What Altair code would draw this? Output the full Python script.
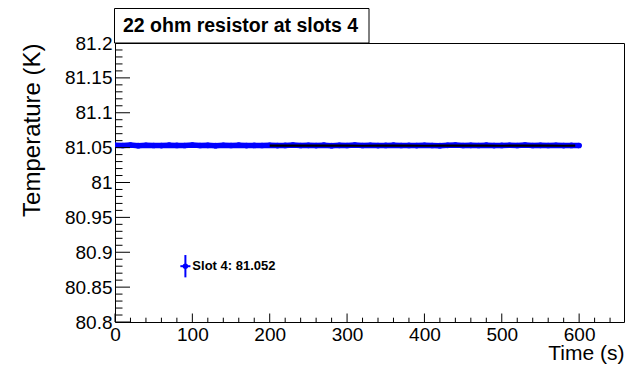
import altair as alt
import pandas as pd

W, H = 509, 279
X_DOMAIN = [0, 658]
Y_DOMAIN = [80.8, 81.2]
FONT = "Liberation Sans"

# blue series (slot 4), one reading every 10 s
time_blue = [0, 10, 20, 30, 40, 50, 60, 70, 80, 90, 100, 110, 120, 130, 140, 150,
             160, 170, 180, 190, 200, 210, 220, 230, 240, 250, 260, 270, 280, 290,
             300, 310, 320, 330, 340, 350, 360, 370, 380, 390, 400, 410, 420, 430,
             440, 450, 460, 470, 480, 490, 500, 510, 520, 530, 540, 550, 560, 570,
             580, 590, 600]
temp_blue = [81.0533, 81.0530, 81.0536, 81.0528, 81.0534, 81.0531, 81.0529, 81.0535,
             81.0532, 81.0530, 81.0536, 81.0530, 81.0533, 81.0528, 81.0534, 81.0531,
             81.0535, 81.0529, 81.0532, 81.0530, 81.0534, 81.0529, 81.0532, 81.0536,
             81.0530, 81.0533, 81.0529, 81.0535, 81.0528, 81.0533, 81.0531, 81.0536,
             81.0530, 81.0534, 81.0529, 81.0532, 81.0535, 81.0530, 81.0532, 81.0529,
             81.0534, 81.0531, 81.0528, 81.0533, 81.0536, 81.0530, 81.0533, 81.0531,
             81.0535, 81.0529, 81.0532, 81.0534, 81.0530, 81.0536, 81.0530, 81.0533,
             81.0531, 81.0534, 81.0529, 81.0532, 81.0531]

# black series, from 200 s on
time_black = [200, 220, 240, 260, 280, 300, 320, 340, 360, 380, 400, 420, 440, 460,
              480, 500, 520, 540, 560, 580, 595]
temp_black = [81.0528, 81.0528, 81.0529, 81.0528, 81.0528, 81.0528, 81.0527, 81.0528,
              81.0529, 81.0528, 81.0527, 81.0528, 81.0528, 81.0529, 81.0528, 81.0527,
              81.0528, 81.0528, 81.0528, 81.0527, 81.0528]

x_major = [0, 100, 200, 300, 400, 500, 600]
x_minor = [20, 40, 60, 80, 120, 140, 160, 180, 220, 240, 260, 280, 320, 340, 360, 380,
           420, 440, 460, 480, 520, 540, 560, 580, 620, 640]
y_major = [80.8, 80.85, 80.9, 80.95, 81.0, 81.05, 81.1, 81.15, 81.2]
y_minor = [round(80.8 + 0.01 * i, 2) for i in range(41) if i % 5 != 0]

legend_x = [91]
legend_y = [80.88]
legend_err_y = [0.016]
legend_err_x = [6.5]
legend_text_x = [100]
legend_label = ["Slot 4: 81.052"]
TITLE = "22 ohm resistor at slots 4"

xs = alt.Scale(domain=X_DOMAIN, nice=False, zero=False)
ys = alt.Scale(domain=Y_DOMAIN, nice=False, zero=False)

x_axis = alt.Axis(values=x_major, title="Time (s)", grid=False, domain=False,
                  ticks=False, tickSize=0, labelPadding=3, labelFont=FONT,
                  labelFontSize=19, labelColor="black", labelFlush=False,
                  labelOverlap=False, titleFont=FONT, titleFontSize=21,
                  titleFontWeight="normal", titleColor="black", titleX=W,
                  titleY=37.5, titleAlign="right", titleBaseline="alphabetic")
y_axis = alt.Axis(values=y_major, title="Temperature (K)", grid=False, domain=False,
                  ticks=False, tickSize=0, labelPadding=3, labelFont=FONT,
                  labelFontSize=19, labelColor="black", labelFlush=False,
                  labelOverlap=False, labelExpr="format(datum.value, '.2~f')",
                  titleFont=FONT, titleFontSize=24, titleFontWeight="normal",
                  titleColor="black", titleAngle=270, titleX=-76, titleY=0,
                  titleAlign="right", titleBaseline="alphabetic")


def X(field):
    return alt.X(field, scale=xs, axis=x_axis)


def Y(field):
    return alt.Y(field, scale=ys, axis=y_axis)


blue_df = pd.DataFrame({"t": time_blue, "T": temp_blue})
black_df = pd.DataFrame({"t": time_black, "T": temp_black})

blue_line = alt.Chart(blue_df).mark_line(color="#0000ff", strokeWidth=5.5, clip=True).encode(
    x=X("t:Q"), y=Y("T:Q"))
blue_pts = alt.Chart(blue_df).mark_circle(color="#0000ff", size=32, opacity=1, clip=True).encode(
    x=X("t:Q"), y=Y("T:Q"))
black_line = alt.Chart(black_df).mark_line(color="black", strokeWidth=2.2, clip=True).encode(
    x=X("t:Q"), y=Y("T:Q"))


def xticks(vals, length):
    return alt.Chart(pd.DataFrame({"v": vals})).mark_rule(color="black", strokeWidth=1).encode(
        x=X("v:Q"), y=alt.value(H), y2=alt.value(H - length))


def yticks(vals, length):
    return alt.Chart(pd.DataFrame({"v": vals})).mark_rule(color="black", strokeWidth=1).encode(
        y=Y("v:Q"), x=alt.value(0), x2=alt.value(length))


leg_df = pd.DataFrame({"x": legend_x, "y": legend_y, "ey": legend_err_y,
                       "ex": legend_err_x, "tx": legend_text_x, "label": legend_label})
leg_df["y0"] = leg_df["y"] - leg_df["ey"]
leg_df["y1"] = leg_df["y"] + leg_df["ey"]
leg_df["x0"] = leg_df["x"] - leg_df["ex"]
leg_df["x1"] = leg_df["x"] + leg_df["ex"]

leg_v = alt.Chart(leg_df).mark_rule(color="#0000ff", strokeWidth=2).encode(
    x=X("x:Q"), y=Y("y0:Q"), y2="y1:Q")
leg_h = alt.Chart(leg_df).mark_rule(color="#0000ff", strokeWidth=2).encode(
    x=X("x0:Q"), x2="x1:Q", y=Y("y:Q"))
leg_pt = alt.Chart(leg_df).mark_circle(color="#0000ff", size=30, opacity=1).encode(
    x=X("x:Q"), y=Y("y:Q"))
leg_txt = alt.Chart(leg_df).mark_text(align="left", baseline="middle", font=FONT,
                                      fontSize=13, fontWeight="bold", color="black").encode(
    x=X("tx:Q"), y=Y("y:Q"), text="label:N")

title_df = pd.DataFrame({"label": [TITLE]})
title_box = alt.Chart(title_df).mark_rect(fill="white", stroke="black", strokeWidth=1).encode(
    x=alt.value(-0.5), x2=alt.value(254), y=alt.value(-34.5), y2=alt.value(0))
title_txt = alt.Chart(title_df).mark_text(align="left", baseline="alphabetic", font=FONT,
                                          fontSize=19.5, fontWeight="bold", color="black").encode(
    x=alt.value(8), y=alt.value(-11), text="label:N")

chart = alt.layer(
    blue_line, blue_pts, black_line,
    xticks(x_major, 8.5), xticks(x_minor, 4.3),
    yticks(y_major, 15), yticks(y_minor, 7.5),
    leg_v, leg_h, leg_pt, leg_txt,
    title_box, title_txt,
).properties(
    width=W, height=H,
    autosize=alt.AutoSizeParams(type="none"),
    padding={"left": 107, "top": 35, "right": 8, "bottom": 42},
    background="white",
).configure_view(stroke="black", strokeWidth=1)

chart.save("out.html", embed_options={"renderer": "svg", "actions": False})
